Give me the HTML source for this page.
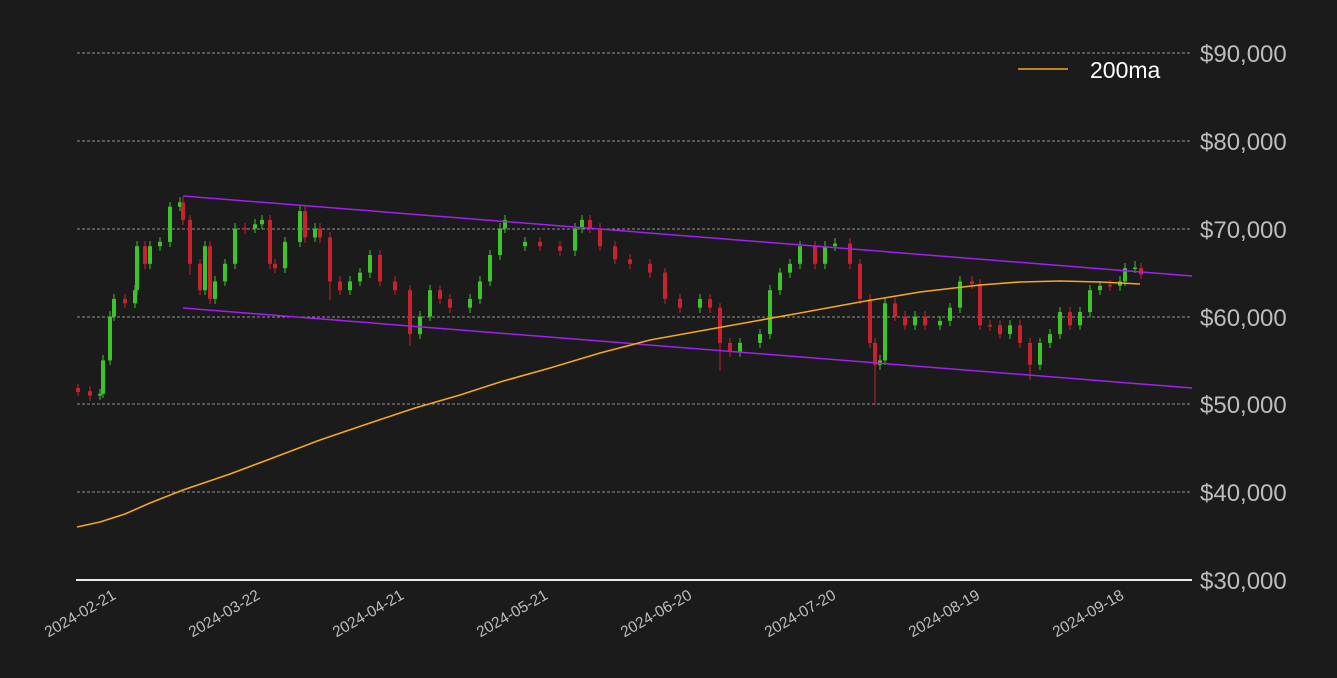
<!DOCTYPE html>
<html><head><meta charset="utf-8"><style>
html,body{margin:0;padding:0;background:#1b1b1b;width:1337px;height:678px;overflow:hidden}
text{font-family:"Liberation Sans","DejaVu Sans",sans-serif}
</style></head><body>
<svg width="1337" height="678" xmlns="http://www.w3.org/2000/svg">
<rect width="1337" height="678" fill="#1b1b1b"/>
<g stroke="#bbbbbb" stroke-width="0.8" stroke-dasharray="3,2">
<line x1="77" x2="1192" y1="53" y2="53"/><line x1="77" x2="1192" y1="141" y2="141"/>
<line x1="77" x2="1192" y1="229" y2="229"/><line x1="77" x2="1192" y1="317" y2="317"/>
<line x1="77" x2="1192" y1="404" y2="404"/><line x1="77" x2="1192" y1="492" y2="492"/>
</g>
<g fill="#3ec32b" stroke="#3ec32b">
<path stroke-width="1" fill="none" d="M100 389V400M103 355V398M110 311V365M114 294V321M135 285V308M137 241V295M150 241V269M160 237V251M170 202V247M180 197V211M205 241V295M215 276V304M225 259V286M235 223V269M255 219V233M262 215V229M285 237V273M300 206V247M315 223V242M350 276V295M360 268V286M370 250V278M420 311V339M430 285V321M470 294V313M480 276V304M490 250V286M500 223V260M505 215V233M525 237V251M575 223V256M582 215V233M700 294V313M740 338V357M760 329V348M770 285V339M780 268V295M790 259V278M800 241V269M825 241V269M835 238V251M880 355V370M885 298V365M915 311V330M940 316V330M950 303V326M960 276V313M1010 320V339M1040 338V370M1050 329V348M1060 307V339M1080 307V330M1090 285V317M1100 281V295M1120 276V291M1125 263V286M1135 261V273"/>
<g stroke="none">
<rect x="98" y="393.8" width="4" height="1.8"/><rect x="101" y="360.4" width="4" height="33.4"/><rect x="108" y="316.5" width="4" height="43.9"/><rect x="112" y="298.9" width="4" height="17.6"/><rect x="133" y="290.2" width="4" height="13.1"/><rect x="135" y="246.2" width="4" height="44"/><rect x="148" y="246.2" width="4" height="17.6"/><rect x="158" y="241.9" width="4" height="4.3"/><rect x="168" y="206.7" width="4" height="35.2"/><rect x="178" y="202.3" width="4" height="4.4"/><rect x="203" y="246.2" width="4" height="44"/><rect x="213" y="281.4" width="4" height="17.5"/><rect x="223" y="263.8" width="4" height="17.6"/><rect x="233" y="228.5" width="4" height="35.3"/><rect x="253" y="224.3" width="4" height="4.2"/><rect x="260" y="219.9" width="4" height="4.4"/><rect x="283" y="241.9" width="4" height="26.3"/><rect x="298" y="211.1" width="4" height="30.8"/><rect x="313" y="228.5" width="4" height="9"/><rect x="348" y="281.4" width="4" height="8.8"/><rect x="358" y="272.6" width="4" height="8.8"/><rect x="368" y="255" width="4" height="17.6"/><rect x="418" y="316.5" width="4" height="17.6"/><rect x="428" y="290.2" width="4" height="26.3"/><rect x="468" y="298.9" width="4" height="8.8"/><rect x="478" y="281.4" width="4" height="17.5"/><rect x="488" y="255" width="4" height="26.4"/><rect x="498" y="228.5" width="4" height="26.5"/><rect x="503" y="219.9" width="4" height="8.6"/><rect x="523" y="241.9" width="4" height="4.3"/><rect x="573" y="228.5" width="4" height="22.1"/><rect x="580" y="219.9" width="4" height="8.6"/><rect x="698" y="298.9" width="4" height="8.8"/><rect x="738" y="342.9" width="4" height="8.7"/><rect x="758" y="334.1" width="4" height="8.8"/><rect x="768" y="290.2" width="4" height="43.9"/><rect x="778" y="272.6" width="4" height="17.6"/><rect x="788" y="263.8" width="4" height="8.8"/><rect x="798" y="246.2" width="4" height="17.6"/><rect x="823" y="246.2" width="4" height="17.6"/><rect x="833" y="243.6" width="4" height="2.6"/><rect x="878" y="360.4" width="4" height="4.4"/><rect x="883" y="303.3" width="4" height="57.1"/><rect x="913" y="316.5" width="4" height="8.8"/><rect x="938" y="320.9" width="4" height="4.4"/><rect x="948" y="307.7" width="4" height="13.2"/><rect x="958" y="281.4" width="4" height="26.3"/><rect x="1008" y="325.3" width="4" height="8.8"/><rect x="1038" y="342.9" width="4" height="21.9"/><rect x="1048" y="334.1" width="4" height="8.8"/><rect x="1058" y="312.1" width="4" height="22"/><rect x="1078" y="312.1" width="4" height="13.2"/><rect x="1088" y="290.2" width="4" height="21.9"/><rect x="1098" y="285.8" width="4" height="4.4"/><rect x="1118" y="281.4" width="4" height="4.4"/><rect x="1123" y="268.2" width="4" height="13.2"/><rect x="1133" y="267.5" width="4" height="1.5"/>
</g></g>
<g fill="#c8222f" stroke="#c8222f">
<path stroke-width="1" fill="none" d="M78 384V396M90 386V401M125 294V308M145 241V269M183 197V225M190 215V275M200 259V295M210 241V304M245 223V234M270 215V269M275 259V273M305 206V243M320 223V243M330 232V300M340 276V295M380 250V286M395 276V295M410 285V346M440 285V304M450 294V313M540 237V251M560 241V256M590 215V233M600 223V251M615 241V264M630 254V269M650 259V278M665 268V304M680 294V313M710 294V313M720 303V371M730 338V357M815 241V269M850 238V269M860 259V304M870 294V348M875 338V405M895 298V321M905 311V330M925 311V330M972 276V289M980 279V330M990 320V331M1000 320V339M1020 320V348M1030 338V380M1070 307V330M1110 280V291M1141 263V279"/>
<g stroke="none">
<rect x="76" y="388" width="4" height="4"/><rect x="88" y="391.2" width="4" height="4.4"/><rect x="123" y="298.9" width="4" height="4.4"/><rect x="143" y="246.2" width="4" height="17.6"/><rect x="181" y="202.3" width="4" height="17.6"/><rect x="188" y="219.9" width="4" height="43.9"/><rect x="198" y="263.8" width="4" height="26.4"/><rect x="208" y="246.2" width="4" height="52.7"/><rect x="243" y="228" width="4" height="1.5"/><rect x="268" y="219.9" width="4" height="43.9"/><rect x="273" y="263.8" width="4" height="4.4"/><rect x="303" y="211.1" width="4" height="26.4"/><rect x="318" y="228.5" width="4" height="9"/><rect x="328" y="237.5" width="4" height="43.9"/><rect x="338" y="281.4" width="4" height="8.8"/><rect x="378" y="255" width="4" height="26.4"/><rect x="393" y="281.4" width="4" height="8.8"/><rect x="408" y="290.2" width="4" height="43.9"/><rect x="438" y="290.2" width="4" height="8.7"/><rect x="448" y="298.9" width="4" height="8.8"/><rect x="538" y="241.9" width="4" height="4.3"/><rect x="558" y="246.2" width="4" height="4.4"/><rect x="588" y="219.9" width="4" height="8.6"/><rect x="598" y="228.5" width="4" height="17.7"/><rect x="613" y="246.2" width="4" height="13.2"/><rect x="628" y="259.4" width="4" height="4.4"/><rect x="648" y="263.8" width="4" height="8.8"/><rect x="663" y="272.6" width="4" height="26.3"/><rect x="678" y="298.9" width="4" height="8.8"/><rect x="708" y="298.9" width="4" height="8.8"/><rect x="718" y="307.7" width="4" height="35.2"/><rect x="728" y="342.9" width="4" height="8.7"/><rect x="813" y="246.2" width="4" height="17.6"/><rect x="848" y="243.6" width="4" height="20.2"/><rect x="858" y="263.8" width="4" height="35.1"/><rect x="868" y="298.9" width="4" height="44"/><rect x="873" y="342.9" width="4" height="21.9"/><rect x="893" y="303.3" width="4" height="13.2"/><rect x="903" y="316.5" width="4" height="8.8"/><rect x="923" y="316.5" width="4" height="8.8"/><rect x="970" y="281.4" width="4" height="2.6"/><rect x="978" y="284" width="4" height="41.3"/><rect x="988" y="325" width="4" height="1.5"/><rect x="998" y="325.3" width="4" height="8.8"/><rect x="1018" y="325.3" width="4" height="17.6"/><rect x="1028" y="342.9" width="4" height="21.9"/><rect x="1068" y="312.1" width="4" height="13.2"/><rect x="1108" y="285" width="4" height="1.5"/><rect x="1139" y="268.2" width="4" height="6.2"/>
</g></g>
<line x1="183" y1="196" x2="1192" y2="276" stroke="#a020f0" stroke-width="1.5"/>
<line x1="183" y1="308" x2="1192" y2="388" stroke="#a020f0" stroke-width="1.5"/>
<polyline fill="none" stroke="#f5a623" stroke-width="1.6" points="77,527 100,522 125,514 150,503 183,490 230,474 270,459 320,440 370,423 415,408 460,395 500,382 550,368 600,353 650,340 700,331 750,322 800,313 860,302 920,292 980,285 1020,282 1060,281 1100,282 1140,284"/>
<line x1="76" x2="1192" y1="580" y2="580" stroke="#e8e8e8" stroke-width="2"/>
<g fill="#bdbdbd" font-size="24">
<text x="1200" y="62">$90,000</text><text x="1200" y="150">$80,000</text>
<text x="1200" y="238">$70,000</text><text x="1200" y="326">$60,000</text>
<text x="1200" y="413">$50,000</text><text x="1200" y="501">$40,000</text>
<text x="1200" y="589">$30,000</text>
</g>
<g fill="#bdbdbd" font-size="15.5" text-anchor="end">
<text transform="translate(117,598) rotate(-30)">2024-02-21</text>
<text transform="translate(261,598) rotate(-30)">2024-03-22</text>
<text transform="translate(405,598) rotate(-30)">2024-04-21</text>
<text transform="translate(549,598) rotate(-30)">2024-05-21</text>
<text transform="translate(693,598) rotate(-30)">2024-06-20</text>
<text transform="translate(837,598) rotate(-30)">2024-07-20</text>
<text transform="translate(981,598) rotate(-30)">2024-08-19</text>
<text transform="translate(1125,598) rotate(-30)">2024-09-18</text>
</g>
<line x1="1018" x2="1068" y1="69" y2="69" stroke="#f5a623" stroke-width="1.6"/>
<text x="1090" y="78" fill="#ffffff" font-size="23">200ma</text>
</svg>
</body></html>
